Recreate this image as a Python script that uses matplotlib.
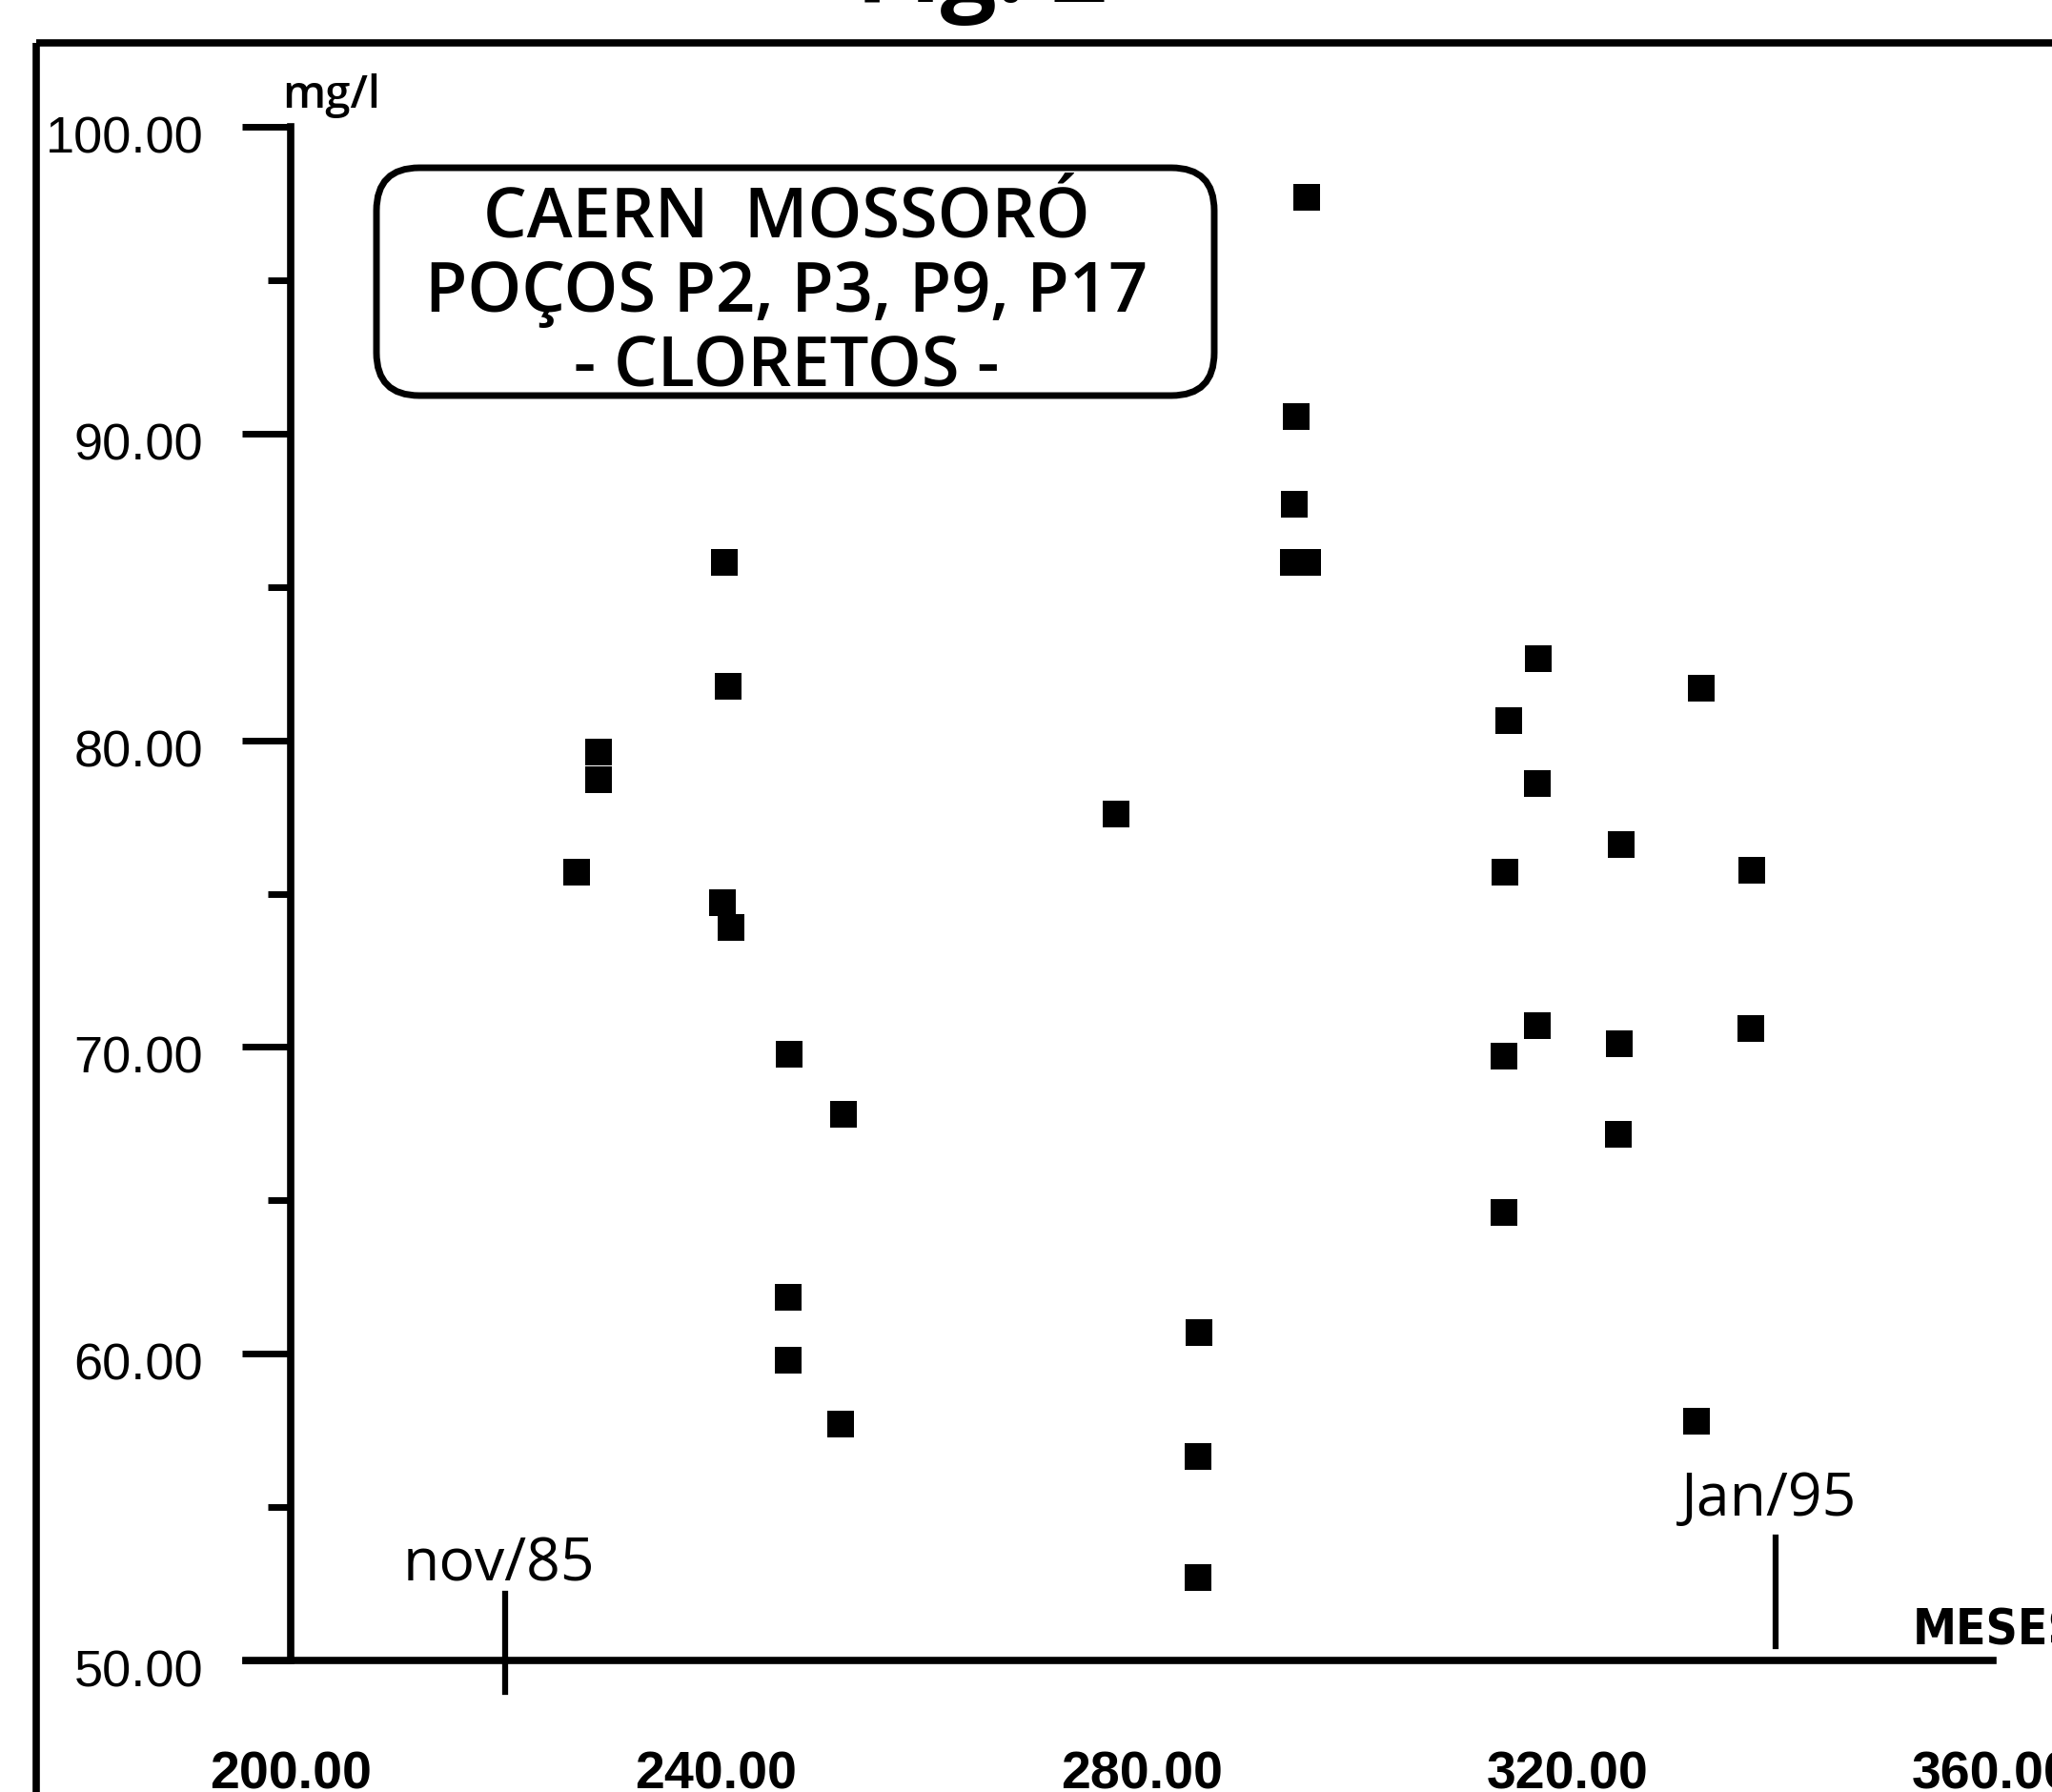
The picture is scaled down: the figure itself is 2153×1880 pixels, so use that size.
import numpy as np
import matplotlib
matplotlib.use('Agg')
import matplotlib.pyplot as plt
from matplotlib.patches import FancyBboxPatch
from matplotlib.transforms import ScaledTranslation

plt.rcParams['font.family'] = ['Liberation Sans', 'DejaVu Sans']

# cloretos (mg/l) x meses - CAERN Mossoro, pocos P2, P3, P9, P17
meses = [226.9, 228.9, 228.9,
         240.8, 241.1, 240.6, 241.4,
         246.9, 246.8, 246.8,
         252.0, 251.7,
         277.6,
         285.4, 285.3, 285.3,
         295.5, 294.5, 294.4, 294.3, 295.6,
         314.5, 314.2, 314.1, 314.1,
         317.3, 317.2, 317.2,
         325.1, 324.9, 324.8,
         332.6, 332.2,
         337.4, 337.3]
cloretos = [75.7, 79.6, 78.7,
            85.8, 81.75, 74.7, 73.9,
            69.75, 61.85, 59.8,
            67.8, 57.7,
            77.6,
            60.7, 56.65, 52.7,
            97.7, 90.55, 87.7, 85.8, 85.8,
            80.65, 75.7, 69.7, 64.6,
            82.65, 78.6, 70.7,
            76.6, 70.1, 67.15,
            81.7, 57.8,
            75.75, 70.6]

x_ticks = [200, 240, 280, 320, 360]
y_ticks = [50, 60, 70, 80, 90, 100]
y_minor = [55, 65, 75, 85, 95]

marcos = ['nov/85', 'Jan/95']
marcos_mes = [220.2, 339.6]

titulo = ['CAERN  MOSSORÓ', 'POÇOS P2, P3, P9, P17', '- CLORETOS -']

W, H = 2153, 1880
fig = plt.figure(figsize=(W / 100, H / 100), dpi=100)

# pixel canvas for the frame, box and loose labels
canvas = fig.add_axes([0, 0, 1, 1])
canvas.set_xlim(0, W)
canvas.set_ylim(H, 0)
canvas.axis('off')

canvas.plot([38, W + 20], [45, 45], color='black', lw=5.5, solid_capstyle='butt')
canvas.plot([38, 38], [45, H + 20], color='black', lw=5.5, solid_capstyle='butt')

canvas.text(1030, 2, 'Fig. 2', ha='center', va='baseline', fontsize=75,
            family=['Open Sans', 'DejaVu Sans'], weight='bold')

box = FancyBboxPatch((395, 176), 879, 239, boxstyle='round,pad=0,rounding_size=45',
                     fc='none', ec='black', lw=5)
canvas.add_patch(box)
canvas.text(825, 308, '\n'.join(titulo), ha='center', va='center', ma='center',
            fontsize=52, linespacing=1.12, weight='semibold',
            family=['Open Sans', 'DejaVu Sans'])

canvas.text(348, 100, 'mg/l', ha='center', va='center', fontsize=34, weight='semibold',
            family=['Open Sans', 'DejaVu Sans'])
canvas.text(2007, 1725, 'MESES', ha='left', va='baseline', fontsize=37, weight='bold',
            stretch='condensed', family=['DejaVu Sans'])

# main axes: x 195.79..360 -> px 258..2090.6 ; y 50..100 -> px 1742..133
x0 = 195.79
ax = fig.add_axes([258 / W, (H - 1742) / H, (2090.6 - 258) / W, (1742 - 133) / H])
ax.set_facecolor('none')
ax.set_xlim(x0, 360)
ax.set_ylim(50, 100)

ax.spines['left'].set_position(('data', 200))
ax.spines['top'].set_visible(False)
ax.spines['right'].set_visible(False)
for s in ['left', 'bottom']:
    ax.spines[s].set_linewidth(5.5)

ax.plot(meses, cloretos, 's', color='black', ms=20, mew=0, clip_on=False)

ax.set_yticks(y_ticks)
ax.set_yticks(y_minor, minor=True)
ax.set_yticklabels([f'{v:.2f}' for v in y_ticks])
ax.tick_params(axis='y', which='major', direction='out', length=37, width=5,
               pad=29, labelsize=39)
ax.tick_params(axis='y', which='minor', direction='out', length=17, width=5)
for lab in ax.get_yticklabels():
    lab.set_transform(lab.get_transform() + ScaledTranslation(0, -8 / 100, fig.dpi_scale_trans))

ax.set_xticks(x_ticks)
ax.set_xticklabels([f'{v:.2f}' for v in x_ticks], fontweight='bold')
ax.tick_params(axis='x', length=0, pad=68, labelsize=40)

# marcos de tempo
ax.plot([marcos_mes[0]] * 2, [48.97, 52.18], color='black', lw=4.5, clip_on=False)
ax.plot([marcos_mes[1]] * 2, [50.47, 54.0], color='black', lw=4.5, clip_on=False)
ax.text(marcos_mes[0] - 0.6, 52.61, marcos[0], ha='center', va='baseline', fontsize=45,
        family=['Open Sans', 'DejaVu Sans'])
ax.text(marcos_mes[1] - 0.6, 54.72, marcos[1], ha='center', va='baseline', fontsize=45,
        family=['Open Sans', 'DejaVu Sans'])

fig.savefig('out.png', dpi=100)
